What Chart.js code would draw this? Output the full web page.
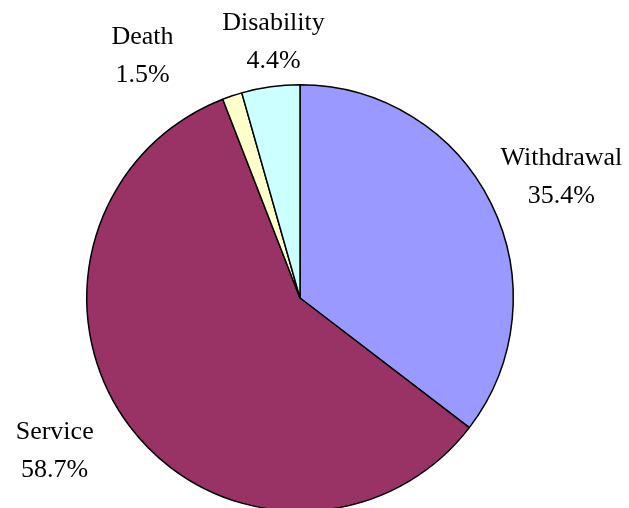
<!DOCTYPE html>
<html>
<head>
<meta charset="utf-8">
<title>Termination by cause</title>
<script src="https://cdn.jsdelivr.net/npm/chart.js"></script>
<style>
  html, body { margin: 0; padding: 0; background: #fff; overflow: hidden; }
  #wrap { width: 629px; height: 508px; overflow: hidden; }
</style>
</head>
<body>
<div id="wrap"><canvas id="pieChart" width="629" height="520"></canvas></div>
<script>
// decrement causes, share of total (%)
const causes = ['Withdrawal', 'Service', 'Death', 'Disability'];
const shares = [35.4, 58.7, 1.5, 4.4];
const sliceColors = ['#9999FF', '#993366', '#FFFFCC', '#CCFFFF'];

// labels sit outside the pie; dist is in pie radii, turn nudges the angle (deg)
const labelPlacement = {
  Withdrawal: { dist: 1.35, turn: 1.5 },
  Service:    { dist: 1.355, turn: 5 },
  Death:      { dist: 1.355, turn: -14.5 },
  Disability: { dist: 1.205, turn: 2 }
};

const outsideLabels = {
  id: 'outsideLabels',
  afterDraw(chart) {
    const ctx = chart.ctx;
    const meta = chart.getDatasetMeta(0);
    ctx.save();
    ctx.font = '26px "Liberation Serif", "Times New Roman", serif';
    ctx.fillStyle = '#000';
    ctx.textAlign = 'center';
    ctx.textBaseline = 'middle';
    meta.data.forEach((arc, i) => {
      const name = chart.data.labels[i];
      const p = labelPlacement[name];
      const a = (arc.startAngle + arc.endAngle) / 2 + p.turn * Math.PI / 180;
      const r = arc.outerRadius * p.dist;
      const x = arc.x + Math.cos(a) * r;
      const y = arc.y + Math.sin(a) * r;
      const val = chart.data.datasets[0].data[i].toFixed(1) + '%';
      ctx.fillText(name, x, y - 19);
      ctx.fillText(val, x, y + 19);
    });
    ctx.restore();
  }
};

new Chart(document.getElementById('pieChart'), {
  type: 'pie',
  data: {
    labels: causes,
    datasets: [{
      data: shares,
      backgroundColor: sliceColors,
      borderColor: '#000',
      borderWidth: 1.5,
      borderAlign: 'center'
    }]
  },
  options: {
    responsive: false,
    animation: false,
    layout: { padding: { left: 86, right: 115, top: 84, bottom: 8 } },
    plugins: {
      legend: { display: false },
      tooltip: { enabled: false }
    }
  },
  plugins: [outsideLabels]
});
</script>
</body>
</html>
